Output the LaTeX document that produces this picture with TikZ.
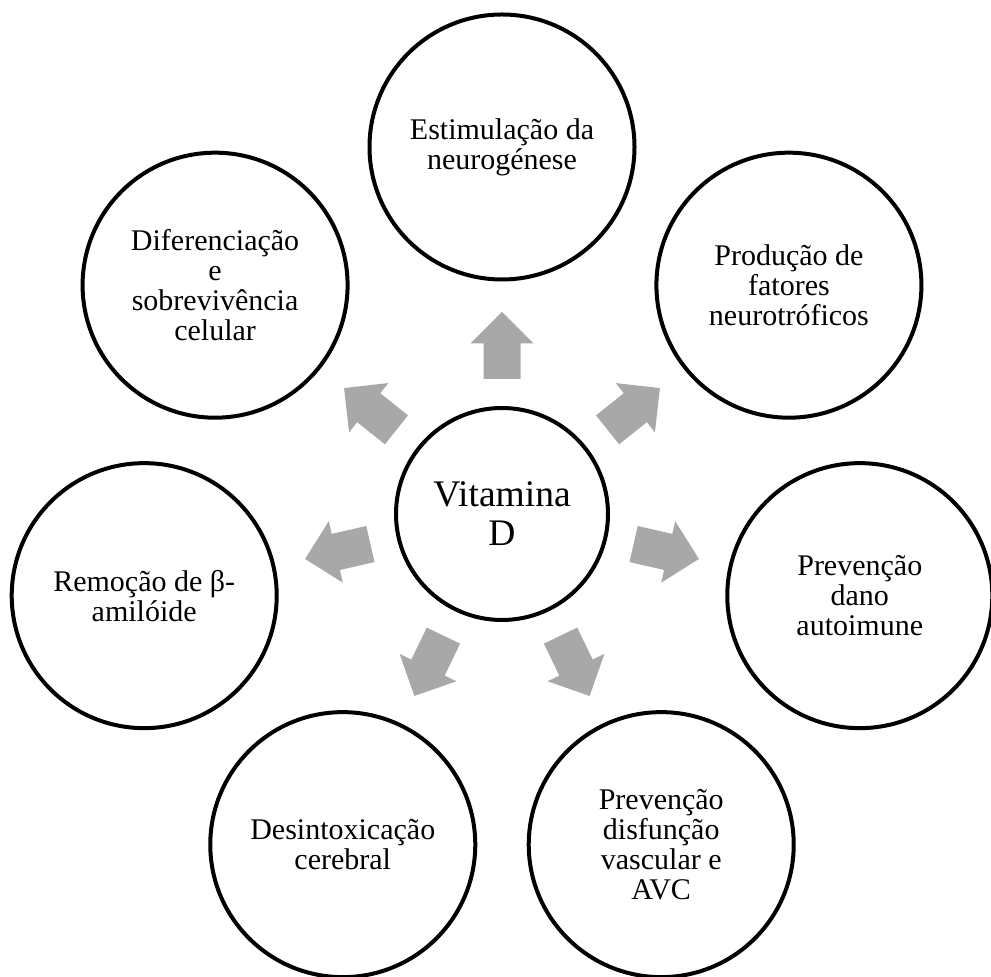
\documentclass[tikz,border=0pt]{standalone}
\usepackage{fontspec}
\setmainfont{Liberation Serif}
\usetikzlibrary{calc}
\definecolor{arrowgray}{RGB}{168,168,168}
\tikzset{
  outercirc/.style={circle, draw=black, line width=4pt, fill=white, minimum size=265pt, inner sep=0pt,
    align=center, font=\fontsize{30}{30}\selectfont},
  centercirc/.style={circle, draw=black, line width=4pt, fill=white, minimum size=212pt, inner sep=0pt,
    align=center, font=\fontsize{37.5}{39}\selectfont},
  blockarrow/.style={fill=arrowgray, draw=none}
}
\begin{document}
\begin{tikzpicture}[x=1pt,y=1pt]
\useasboundingbox[fill=white] (0,0) rectangle (991,977);
\node[centercirc] (c) at (502,463) {Vitamina\\D};
\node[outercirc] (n1) at ($(c)+(90:367)$) {Estimulação da\\neurogénese};
\node[outercirc] (n2) at ($(c)+(38.571:367)$) {Produção de\\fatores\\neurotróficos};
\node[outercirc] (n3) at ($(c)+(-12.857:367)$) {Prevenção\\dano\\autoimune};
\node[outercirc] (n4) at ($(c)+(-64.286:367)$) {Prevenção\\disfunção\\vascular e\\AVC};
\node[outercirc] (n5) at ($(c)+(-115.714:367)$) {Desintoxicação\\cerebral};
\node[outercirc] (n6) at ($(c)+(-167.143:367)$) {Remoção de β-\\amilóide};
\node[outercirc] (n7) at ($(c)+(141.429:367)$) {Diferenciação\\e\\sobrevivência\\celular};
\foreach \a in {90,38.571,-12.857,-64.286,-115.714,-167.143,141.429}{
  \begin{scope}[shift={(c.center)}, rotate=\a]
    \fill[blockarrow] (135,-18.5) -- (170.5,-18.5) -- (170.5,-31.5) -- (202,0)
      -- (170.5,31.5) -- (170.5,18.5) -- (135,18.5) -- cycle;
  \end{scope}
}
\end{tikzpicture}
\end{document}
